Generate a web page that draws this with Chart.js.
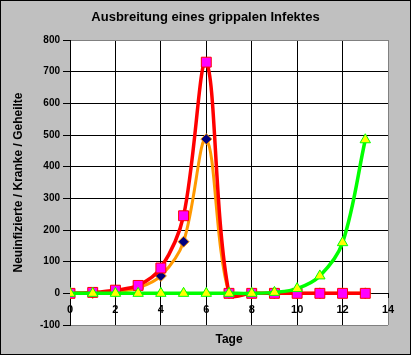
<!DOCTYPE html>
<html>
<head>
<meta charset="utf-8">
<script src="https://cdn.jsdelivr.net/npm/chart.js@4/dist/chart.umd.min.js"></script>
<style>
  html, body { margin: 0; padding: 0; background: #c0c0c0; }
  #wrap { width: 411px; height: 355px; }
</style>
</head>
<body>
<div id="wrap"><canvas id="c" width="411" height="355"></canvas></div>
<script>
// ---- data ----
const days = [0, 1, 2, 3, 4, 5, 6, 7, 8, 9, 10, 11, 12, 13];
const neuinfizierte = [0, 3, 10, 25, 80, 245, 730, 0, 0, 0, 0, 0, 0, 0];
const kranke        = [0, 1, 5, 17, 55, 163, 487, 0, 0, 0, 0, 0, 0, 0];
const geheilte      = [0, 0, 0, 0, 0, 0, 0, 0, 0, 3, 15, 55, 160, 485];
const chartTitle = 'Ausbreitung eines grippalen Infektes';
const xTitle = 'Tage';
const yTitle = 'Neuinfizierte / Kranke / Geheilte';
const xTicks = [0, 2, 4, 6, 8, 10, 12, 14];
const yTicks = [-100, 0, 100, 200, 300, 400, 500, 600, 700, 800];

const toPts = (vals) => vals.map((v, i) => ({ x: days[i], y: v }));
const FONT = "'Liberation Sans', Arial, sans-serif";

const bgPlugin = {
  id: 'bg',
  beforeDraw(chart) {
    const { ctx, chartArea: a } = chart;
    ctx.save();
    ctx.fillStyle = '#c0c0c0';
    ctx.fillRect(0, 0, chart.width, chart.height);
    ctx.fillStyle = '#ffffff';
    ctx.fillRect(a.left, a.top, a.right - a.left, a.bottom - a.top);
    ctx.restore();
  },
  afterDraw(chart) {
    const { ctx } = chart;
    ctx.save();
    ctx.strokeStyle = '#000000';
    ctx.lineWidth = 1;
    ctx.strokeRect(0.5, 0.5, chart.width - 1, chart.height - 1);
    ctx.restore();
  }
};

new Chart(document.getElementById('c'), {
  type: 'line',
  data: {
    datasets: [
      {
        label: 'Neuinfizierte',
        data: toPts(neuinfizierte),
        borderColor: '#ff0000',
        borderWidth: 3.5,
        pointStyle: 'rect',
        pointRadius: 7,
        pointBackgroundColor: '#ff00ff',
        pointBorderColor: '#ff0000',
        pointBorderWidth: 1,
        tension: 0.35,
        order: 1
      },
      {
        label: 'Kranke',
        data: toPts(kranke),
        borderColor: '#ff9900',
        borderWidth: 3,
        pointStyle: 'rectRot',
        pointRadius: 5.5,
        pointBackgroundColor: '#000080',
        pointBorderColor: '#ff9900',
        pointBorderWidth: 1,
        tension: 0.35,
        order: 2
      },
      {
        label: 'Geheilte',
        data: toPts(geheilte),
        borderColor: '#00ff00',
        borderWidth: 3.5,
        pointStyle: 'triangle',
        pointRadius: 6,
        pointBackgroundColor: '#ffff00',
        pointBorderColor: '#00ff00',
        pointBorderWidth: 1,
        tension: 0.35,
        order: 0
      }
    ]
  },
  options: {
    responsive: false,
    animation: false,
    layout: { padding: 0 },
    plugins: {
      legend: { display: false },
      tooltip: { enabled: false },
      title: {
        display: true,
        text: chartTitle,
        color: '#000000',
        font: { family: FONT, size: 13, weight: 'bold' },
        padding: { top: 10, bottom: 14.4 }
      },
      subtitle: {
        display: true,
        text: xTitle,
        position: 'bottom',
        fullSize: false,
        color: '#000000',
        font: { family: FONT, size: 12, weight: 'bold' },
        padding: { top: 7, bottom: 8.6 }
      }
    },
    scales: {
      x: {
        type: 'linear',
        position: { y: 0 },
        min: 0,
        max: 14,
        afterBuildTicks: (s) => { s.ticks = xTicks.map(v => ({ value: v })); },
        ticks: {
          color: '#000000',
          font: { family: FONT, size: 11, weight: 'bold' },
          padding: 6,
          maxRotation: 0,
          autoSkip: false
        },
        grid: {
          color: (c) => (c.tick && c.tick.value === 14 ? '#808080' : '#000000'),
          tickColor: '#000000',
          tickLength: 4,
          lineWidth: 1
        },
        border: { display: true, color: '#000000', width: 1 }
      },
      y: {
        type: 'linear',
        position: 'left',
        min: -100,
        max: 800,
        afterBuildTicks: (s) => { s.ticks = yTicks.map(v => ({ value: v })); },
        afterFit: (s) => { s.width = 70; },
        ticks: {
          color: '#000000',
          font: { family: FONT, size: 10, weight: 'bold' },
          padding: 3,
          autoSkip: false
        },
        grid: {
          color: (c) => (c.tick && (c.tick.value === 800 || c.tick.value === -100) ? '#808080' : '#000000'),
          tickColor: '#000000',
          tickLength: 7,
          lineWidth: 1
        },
        border: { display: true, color: '#000000', width: 1 },
        title: {
          display: true,
          text: yTitle,
          color: '#000000',
          font: { family: FONT, size: 12, weight: 'bold' },
          padding: { top: 11, bottom: 0 }
        }
      },
      yRight: {
        type: 'linear',
        position: 'right',
        display: true,
        min: -100,
        max: 800,
        afterFit: (s) => { s.width = 23; },
        ticks: { display: false },
        grid: { display: false, drawOnChartArea: false },
        border: { display: false }
      }
    }
  },
  plugins: [bgPlugin]
});
</script>
</body>
</html>
